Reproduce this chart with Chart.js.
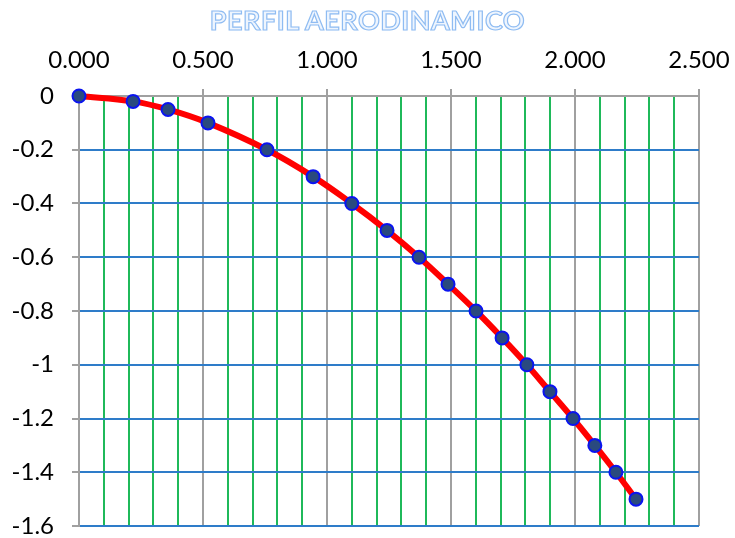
<!DOCTYPE html>
<html>
<head>
<meta charset="utf-8">
<script src="https://cdn.jsdelivr.net/npm/chart.js@4.4.1/dist/chart.umd.min.js"></script>
<style>
  html, body { margin: 0; padding: 0; background: #fff; }
  #wrap { position: relative; width: 735px; height: 538px; }
  #title {
    position: absolute; left: 0; top: 3px; width: 735px; text-align: center;
    font-family: Lato, sans-serif; font-weight: bold; font-size: 27px; letter-spacing: 0.5px;
    color: #eef5fe; -webkit-text-stroke: 1.2px #8fbcf2;
  }
</style>
</head>
<body>
<div id="wrap">
  <canvas id="chart" width="735" height="538"></canvas>
  <div id="title">PERFIL AERODINAMICO</div>
</div>
<script>
    // perfil
    const xVals = [0, 0.218, 0.359, 0.52, 0.758, 0.944, 1.10, 1.242, 1.371, 1.488, 1.601, 1.706, 1.806, 1.899, 1.992, 2.08, 2.165, 2.246];
    const yVals = [0, -0.02, -0.05, -0.1, -0.2, -0.3, -0.4, -0.5, -0.6, -0.7, -0.8, -0.9, -1.0, -1.1, -1.2, -1.3, -1.4, -1.5];

    const xMin = 0, xMax = 2.5, xStep = 0.1, xLabelStep = 0.5;
    const yMin = -1.6, yMax = 0, yStep = 0.2;

    const gray = '#a0a0a0';
    const green = '#1fb95a';
    const blue = '#2e7cc9';
    const font = { family: 'Lato, sans-serif', size: 24 };

    var isMajor = function(v) {
        let r = v / xLabelStep;
        return Math.abs(r - Math.round(r)) < 1e-6;
    };

    var points = xVals.map(function(x, i) { return { x: x, y: yVals[i] }; });

    var chart = new Chart(document.getElementById('chart'), {
        type: 'scatter',
        data: {
            datasets: [{
                data: points,
                showLine: true,
                clip: false,
                borderColor: '#ff0000',
                borderWidth: 6,
                tension: 0.4,
                pointRadius: 6.5,
                pointBorderWidth: 2,
                pointBackgroundColor: '#2a4a7f',
                pointBorderColor: '#0a14f0'
            }]
        },
        options: {
            responsive: false,
            animation: false,
            layout: { padding: { left: 0, top: 0, right: 36, bottom: 12 } },
            plugins: {
                legend: { display: false },
                tooltip: { enabled: false }
            },
            scales: {
                x: {
                    type: 'linear',
                    position: 'top',
                    min: xMin,
                    max: xMax,
                    afterFit: function(s) { s.height = 96; s.paddingLeft = 0; s.paddingRight = 0; },
                    ticks: {
                        stepSize: xStep,
                        autoSkip: false,
                        maxRotation: 0,
                        color: '#000',
                        font: font,
                        padding: 14,
                        callback: function(v) { return isMajor(v) ? v.toFixed(3) : ''; }
                    },
                    grid: {
                        lineWidth: 2,
                        tickLength: 7,
                        color: function(ctx) { return isMajor(ctx.tick.value) ? gray : green; },
                        tickColor: function(ctx) { return isMajor(ctx.tick.value) ? gray : 'rgba(0,0,0,0)'; }
                    },
                    border: { color: gray, width: 2 }
                },
                y: {
                    type: 'linear',
                    min: yMin,
                    max: yMax,
                    afterFit: function(s) { s.width = 79; s.paddingTop = 0; s.paddingBottom = 0; },
                    ticks: {
                        stepSize: yStep,
                        color: '#000',
                        font: font,
                        padding: 18,
                        callback: function(v) { return String(Number(v.toFixed(1))); }
                    },
                    grid: {
                        lineWidth: 2,
                        tickLength: 7,
                        color: function(ctx) { return Math.abs(ctx.tick.value) < 1e-6 ? gray : blue; },
                        tickColor: gray
                    },
                    border: { color: gray, width: 2 }
                }
            }
        }
    });
</script>
</body>
</html>
